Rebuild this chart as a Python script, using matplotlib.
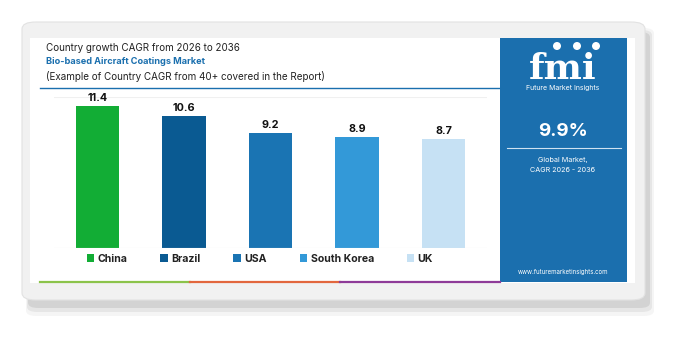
import matplotlib.pyplot as plt
from matplotlib.patches import FancyBboxPatch, Rectangle, Ellipse
from matplotlib.lines import Line2D

plt.rcParams['font.family'] = ['Inter', 'DejaVu Sans']

countries = ['China', 'Brazil', 'USA', 'South Korea', 'UK']
cagr = [11.4, 10.6, 9.2, 8.9, 8.7]
colors = ['#12ad35', '#0a5a92', '#1a74b3', '#3399d8', '#c6e1f4']
global_cagr = '9.9%'

W, H = 687, 346
fig = plt.figure(figsize=(W / 100, H / 100), dpi=100)
fig.patch.set_facecolor('white')


def fx(x):
    return x / W


def fy(y):
    return 1 - y / H


def box(x0, y0, x1, y1, **kw):
    return FancyBboxPatch((fx(x0), fy(y1)), fx(x1 - x0), (y1 - y0) / H,
                          transform=fig.transFigure, **kw)


# card shadow + card
for i, a in enumerate([0.04, 0.06, 0.08]):
    fig.patches.append(box(26 + i, 28 + i * 2, 654 - i * 2, 316 - i * 4,
                           boxstyle='round,pad=0,rounding_size=0.015',
                           fc='black', ec='none', alpha=a, zorder=0))
fig.patches.append(box(22, 22, 645, 300, boxstyle='round,pad=0,rounding_size=0.02',
                       fc='#f1f1f1', ec='#e2e2e2', lw=0.8, zorder=0))
fig.patches.append(Rectangle((fx(30), fy(283)), fx(605), 245 / H,
                             transform=fig.transFigure, fc='white', ec='none', zorder=0))

# colored strip at bottom of chart panel
strip = [('#8bc34a', 40, 190), ('#e2673d', 190, 340), ('#8e3b98', 340, 500)]
for c, x0, x1 in strip:
    fig.lines.append(Line2D([fx(x0), fx(x1)], [fy(282), fy(282)],
                            transform=fig.transFigure, color=c, lw=1.6))

# header
fig.text(fx(46), fy(48), 'Country growth CAGR from 2026 to 2036', fontsize=7.1,
         color='#222222', va='center')
fig.text(fx(46), fy(62), 'Bio-based Aircraft Coatings Market', fontsize=6.6,
         color='#1a6fae', fontweight='bold', va='center')
fig.text(fx(46), fy(77), '(Example of Country CAGR from 40+ covered in the Report)',
         fontsize=7.1, color='#222222', va='center')
fig.lines.append(Line2D([fx(40), fx(500)], [fy(88), fy(88)],
                        transform=fig.transFigure, color='#1a6fae', lw=1.0))

# bar chart
ax = fig.add_axes([fx(54), fy(248), fx(433), (248 - 97) / H], zorder=5)
x = range(len(countries))
bars = ax.bar(x, cagr, width=0.5, color=colors, label=countries)
ax.set_xlim(-0.5, len(countries) - 0.5)
ax.set_ylim(0, 12.1)
for b, v in zip(bars, cagr):
    ax.text(b.get_x() + b.get_width() / 2, v + 0.25, f'{v}', ha='center',
            va='bottom', fontsize=7.8, fontweight='bold', color='#111111')
ax.axhline(12.1, color='#f0f0f0', lw=0.8)
ax.axhline(0, color='#e6e6e6', lw=0.8)
ax.set_xticks([])
ax.set_yticks([])
for s in ax.spines.values():
    s.set_visible(False)
ax.patch.set_alpha(0)

leg = ax.legend(bars, countries, loc='upper left', bbox_to_anchor=(fx(77), fy(244)),
                bbox_transform=fig.transFigure, ncol=5, frameon=False,
                handlelength=0.7, handleheight=0.7, handletextpad=0.35,
                columnspacing=3.1, prop={'size': 7.6, 'weight': 'bold'})
for t in leg.get_texts():
    t.set_color('#222222')

# right side panel
panel_blue = '#1b6fae'
fig.patches.append(Rectangle((fx(500), fy(282)), fx(127), 244 / H,
                             transform=fig.transFigure, fc=panel_blue, ec='none', zorder=0))
cx = 563
fig.text(fx(cx), fy(79), 'fmi', fontsize=26, fontweight='bold', family='DejaVu Serif',
         color='white', ha='center', va='baseline')
for px in [557, 577, 596]:
    fig.patches.append(Ellipse((fx(px), fy(46)), fx(8), 8 / H, transform=fig.transFigure,
                               fc='white', ec='none'))
fig.text(fx(cx), fy(88), 'Future Market Insights', fontsize=5, color='white',
         ha='center', va='center')
fig.text(fx(cx), fy(131), global_cagr, fontsize=13.5, fontweight='bold', color='white',
         ha='center', va='center')
fig.lines.append(Line2D([fx(507), fx(621)], [fy(148), fy(148)],
                        transform=fig.transFigure, color='#cfe2f2', lw=0.8))
fig.text(fx(cx), fy(160), 'Global Market,', fontsize=5.2, color='white',
         ha='center', va='center')
fig.text(fx(cx), fy(170), 'CAGR 2026 - 2036', fontsize=5.2, color='white',
         ha='center', va='center')
fig.text(fx(cx), fy(272), 'www.futuremarketinsights.com', fontsize=4.4, color='white',
         ha='center', va='center')

fig.savefig('out.png', dpi=100)
